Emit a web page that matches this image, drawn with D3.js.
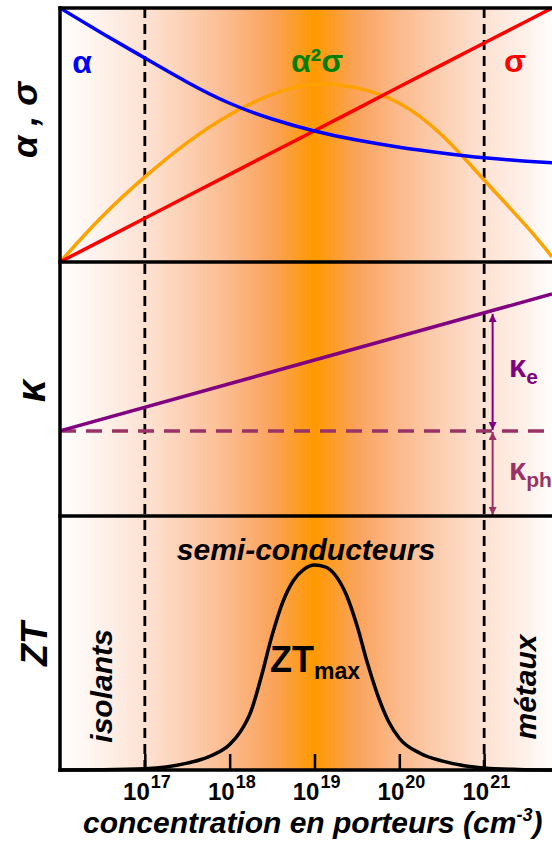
<!DOCTYPE html>
<html><head><meta charset="utf-8">
<script src="https://cdn.jsdelivr.net/npm/d3@7"></script>
<style>
body{margin:0;background:#fff}
svg{display:block}
text{font-family:"Liberation Sans",Arial,sans-serif;font-weight:bold}
</style>
</head><body>
<svg id="c" width="552" height="843"></svg>
<script>
// ---- data (log10 of carrier concentration, arbitrary units) ----
const logN = [16, 16.5, 17, 17.5, 18, 18.5, 19, 19.5, 20, 20.5, 21, 21.5, 21.8];
const alpha = [1.0, 0.90, 0.803, 0.708, 0.625, 0.563, 0.516, 0.480, 0.452, 0.429, 0.410, 0.397, 0.391];
const sigma = [0, 0.086, 0.172, 0.259, 0.345, 0.431, 0.517, 0.603, 0.69, 0.776, 0.862, 0.948, 1.0];
const powerFactor = [0, 0.18, 0.335, 0.47, 0.58, 0.66, 0.70, 0.685, 0.625, 0.50, 0.323, 0.14, 0.02];

const kappaLogN = [16, 21.8];
const kappaTotal = [0.335, 0.874];
const kappaPh = [0.335, 0.335];

const ztLogN = [16, 16.5, 17, 17.25, 17.5, 17.75, 18, 18.125, 18.25, 18.375, 18.5, 18.625, 18.75, 18.875, 19, 19.125, 19.25, 19.375, 19.5, 19.625, 19.75, 19.875, 20, 20.25, 20.5, 20.75, 21, 21.4, 21.8];
const zt = [0, 0.001, 0.005, 0.012, 0.027, 0.052, 0.10, 0.15, 0.23, 0.37, 0.53, 0.66, 0.745, 0.79, 0.807, 0.80, 0.765, 0.69, 0.57, 0.42, 0.29, 0.19, 0.125, 0.065, 0.036, 0.018, 0.008, 0.002, 0];

const tickExps = [17, 18, 19, 20, 21];
const boundaryExps = [17, 21];
const bgLogN = [16, 16.5, 17, 17.5, 18, 18.5, 19, 19.5, 20, 20.5, 21, 21.5, 21.8];
const bgColors = ["#ffffff", "#fef1ea", "#fde2d3", "#fccfb2", "#fbba8c", "#faa35c", "#ff9900", "#faa35c", "#fbba8c", "#fccfb2", "#fde2d3", "#fef1ea", "#ffffff"];

// ---- layout ----
const svg = d3.select("#c");
const left = 60, right = 552;
const x = d3.scaleLog().domain([1e16, Math.pow(10, 21.8)]).range([left, right]);
const X = e => x(Math.pow(10, e));
const yTop = d3.scaleLinear().domain([0, 1]).range([262, 8]);
const yMid = d3.scaleLinear().domain([0, 1]).range([516, 262]);
const yBot = d3.scaleLinear().domain([0, 1]).range([770, 516]);

const defs = svg.append("defs");
const grad = defs.append("linearGradient").attr("id", "bg")
  .attr("gradientUnits", "userSpaceOnUse")
  .attr("x1", left).attr("x2", right).attr("y1", 0).attr("y2", 0);
bgLogN.forEach((e, i) => grad.append("stop")
  .attr("offset", (X(e) - left) / (right - left))
  .attr("stop-color", bgColors[i]));

function marker(id, color) {
  defs.append("marker").attr("id", id)
    .attr("viewBox", "0 0 10 10").attr("refX", 10).attr("refY", 5)
    .attr("markerUnits", "userSpaceOnUse")
    .attr("markerWidth", 9).attr("markerHeight", 8)
    .attr("orient", "auto-start-reverse")
    .append("path").attr("d", "M0,0 L10,5 L0,10 z").attr("fill", color);
}
marker("arrP", "#800080");
marker("arrM", "#993366");

svg.append("rect").attr("x", left).attr("y", yTop(1)).attr("width", right - left + 10)
  .attr("height", yBot(0) - yTop(1)).attr("fill", "url(#bg)");

// vertical dashed boundaries
svg.selectAll("line.vb").data(boundaryExps).join("line")
  .attr("x1", d => X(d)).attr("x2", d => X(d))
  .attr("y1", yTop(1)).attr("y2", yBot(0))
  .attr("stroke", "#000").attr("stroke-width", 2.8).attr("stroke-dasharray", "10,6");

// top panel curves
const ptsTop = arr => logN.map((e, i) => [X(e), yTop(arr[i])]);
const lineC = d3.line().curve(d3.curveNatural);
svg.append("path").attr("d", lineC(ptsTop(powerFactor))).attr("fill", "none").attr("stroke", "#ffa200").attr("stroke-width", 3.5);
svg.append("path").attr("d", d3.line()(ptsTop(sigma))).attr("fill", "none").attr("stroke", "#ff0000").attr("stroke-width", 3.5);
svg.append("path").attr("d", lineC(ptsTop(alpha))).attr("fill", "none").attr("stroke", "#0000ff").attr("stroke-width", 3.5);

// middle panel
const lineL = d3.line();
svg.append("path").attr("d", lineL(kappaLogN.map((e, i) => [X(e), yMid(kappaPh[i])])))
  .attr("fill", "none").attr("stroke", "#993366").attr("stroke-width", 3.5).attr("stroke-dasharray", "16,10");
svg.append("path").attr("d", lineL(kappaLogN.map((e, i) => [X(e), yMid(kappaTotal[i])])))
  .attr("fill", "none").attr("stroke", "#800080").attr("stroke-width", 3.5);

const arrowExp = 21.1;
const kAt = e => kappaTotal[0] + (kappaTotal[1] - kappaTotal[0]) * (e - kappaLogN[0]) / (kappaLogN[1] - kappaLogN[0]);
svg.append("line").attr("x1", X(arrowExp)).attr("x2", X(arrowExp))
  .attr("y1", yMid(kAt(21)) + 1).attr("y2", yMid(kappaPh[0]) - 1)
  .attr("stroke", "#800080").attr("stroke-width", 2)
  .attr("marker-start", "url(#arrP)").attr("marker-end", "url(#arrP)");
svg.append("line").attr("x1", X(arrowExp)).attr("x2", X(arrowExp))
  .attr("y1", yMid(kappaPh[0]) + 1).attr("y2", yMid(0) - 1)
  .attr("stroke", "#993366").attr("stroke-width", 2)
  .attr("marker-start", "url(#arrM)").attr("marker-end", "url(#arrM)");

// bottom panel ZT
svg.append("path").attr("d", d3.line().curve(d3.curveMonotoneX)(ztLogN.map((e, i) => [X(e), yBot(zt[i])])))
  .attr("fill", "none").attr("stroke", "#000").attr("stroke-width", 3.5);

// axis ticks (inward)
const axis = d3.axisBottom(x).tickValues(tickExps.map(e => Math.pow(10, e))).tickSize(-16).tickFormat("");
const gA = svg.append("g").attr("transform", `translate(0,${yBot(0)})`).call(axis);
gA.select(".domain").remove();
gA.selectAll(".tick line").attr("stroke", "#000").attr("stroke-width", 2.5);

// tick labels: base and exponent as side-by-side texts
svg.selectAll("text.tb").data(tickExps).join("text").attr("class", "tb")
  .attr("x", d => X(d) + 5).attr("y", 800).attr("text-anchor", "end").attr("font-size", 24).text("10");
svg.selectAll("text.te").data(tickExps).join("text").attr("class", "te")
  .attr("x", d => X(d) + 6).attr("y", 788).attr("text-anchor", "start").attr("font-size", 18).text(d => d);

// panel borders
[yTop(1), yTop(0), yMid(0), yBot(0)].forEach(yy =>
  svg.append("line").attr("x1", left - 1.75).attr("x2", right + 10).attr("y1", yy).attr("y2", yy)
    .attr("stroke", "#000").attr("stroke-width", 3.5));
svg.append("line").attr("x1", left).attr("x2", left).attr("y1", yTop(1) - 1.75).attr("y2", yBot(0) + 1.75)
  .attr("stroke", "#000").attr("stroke-width", 3.5);

// labels
function txt(t, xx, yy, size, color, opts = {}) {
  const el = svg.append("text").attr("x", xx).attr("y", yy).attr("font-size", size)
    .attr("fill", color).attr("text-anchor", opts.anchor || "middle").text(t);
  if (opts.italic) el.attr("font-style", "italic");
  if (opts.rot) el.attr("transform", `rotate(-90,${xx},${yy})`);
  return el;
}
txt("α", 82, 73, 32, "#0000ff");
txt("α²σ", 317, 72, 32, "#008000");
txt("σ", 515, 72, 32, "#ff0000");

txt("α , σ", 37, 120, 36, "#000", {rot: true, italic: true});
txt("κ", 45, 391, 40, "#000", {rot: true, italic: true});
txt("ZT", 47, 644, 36, "#000", {rot: true, italic: true});

txt("isolants", 112, 686, 30, "#000", {rot: true, italic: true});
txt("métaux", 536, 687, 30, "#000", {rot: true, italic: true});
txt("semi-conducteurs", 306, 560, 30, "#000", {italic: true});

const zm = svg.append("text").attr("x", 270).attr("y", 672).attr("font-size", 36).attr("fill", "#000");
zm.append("tspan").text("ZT");
zm.append("tspan").attr("font-size", 23).attr("dy", 7).text("max");

const ke = svg.append("text").attr("x", 509).attr("y", 377).attr("font-size", 31).attr("fill", "#800080");
ke.append("tspan").text("κ");
ke.append("tspan").attr("font-size", 21).attr("dy", 7).text("e");
const kp = svg.append("text").attr("x", 509).attr("y", 480).attr("font-size", 31).attr("fill", "#993366");
kp.append("tspan").text("κ");
kp.append("tspan").attr("font-size", 21).attr("dy", 7).text("ph");

const ttl = svg.append("text").attr("x", 83).attr("y", 833).attr("font-size", 30)
  .attr("font-style", "italic").attr("fill", "#000");
ttl.append("tspan").text("concentration en porteurs (cm");
ttl.append("tspan").attr("font-size", 18).attr("dy", -12).text("-3");
ttl.append("tspan").attr("dy", 12).text(")");
</script>
</body></html>
